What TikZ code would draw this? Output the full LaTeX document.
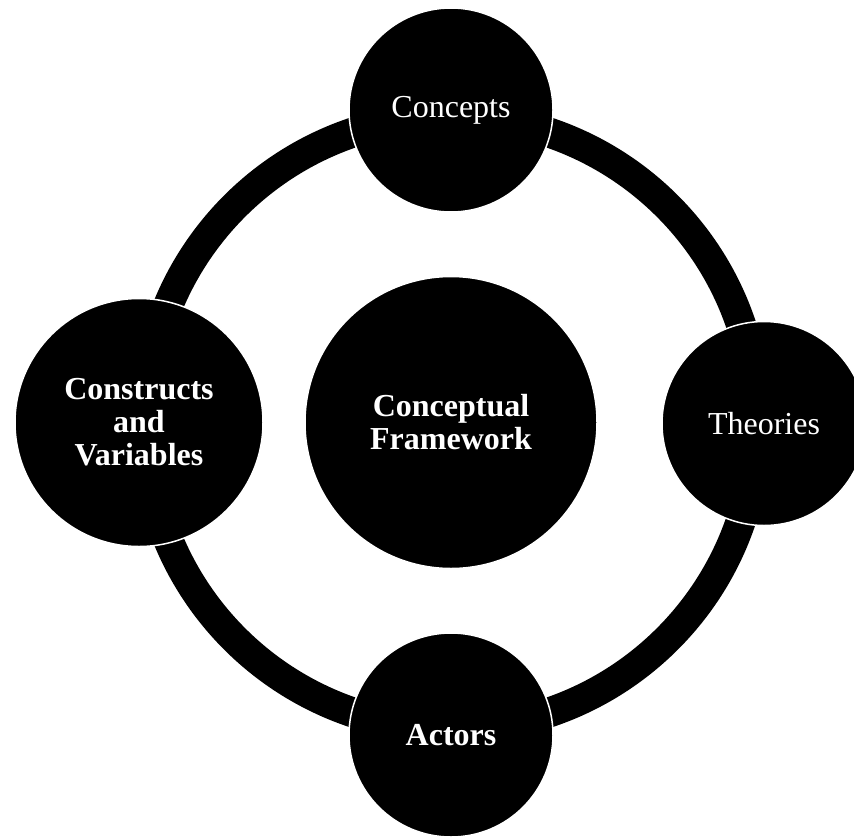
\documentclass[tikz,border=0pt]{standalone}
\usepackage{fontspec}
\setmainfont{Liberation Serif}
\begin{document}
\begin{tikzpicture}[x=1pt,y=-1pt,
  sat/.style={circle,fill=black,draw=white,line width=1.5pt,inner sep=0pt,
    text=white,align=center,font=\fontsize{32}{33}\selectfont},
  hub/.style={circle,fill=black,draw=white,line width=1.5pt,inner sep=0pt,
    text=white,align=center,font=\fontsize{32}{33}\selectfont\bfseries}]
\useasboundingbox (0,0) rectangle (854,838);
\coordinate (ctr) at (451,422.5);
\draw[line width=30pt,black] (ctr) circle[radius=306];
\node[hub,minimum size=292pt] (cf) at (ctr) {Conceptual\\Framework};
\node[sat,minimum size=204pt] (concepts) at (451,110) {Concepts};
\node[sat,minimum size=204pt] (theories) at (764,423.5) {Theories};
\node[sat,minimum size=204pt,font=\fontsize{32}{33}\selectfont\bfseries] (actors) at (451,735) {Actors};
\node[sat,minimum size=248pt,font=\fontsize{32}{33}\selectfont\bfseries] (constructs) at (139,422.5) {Constructs\\and\\Variables};
\end{tikzpicture}
\end{document}
